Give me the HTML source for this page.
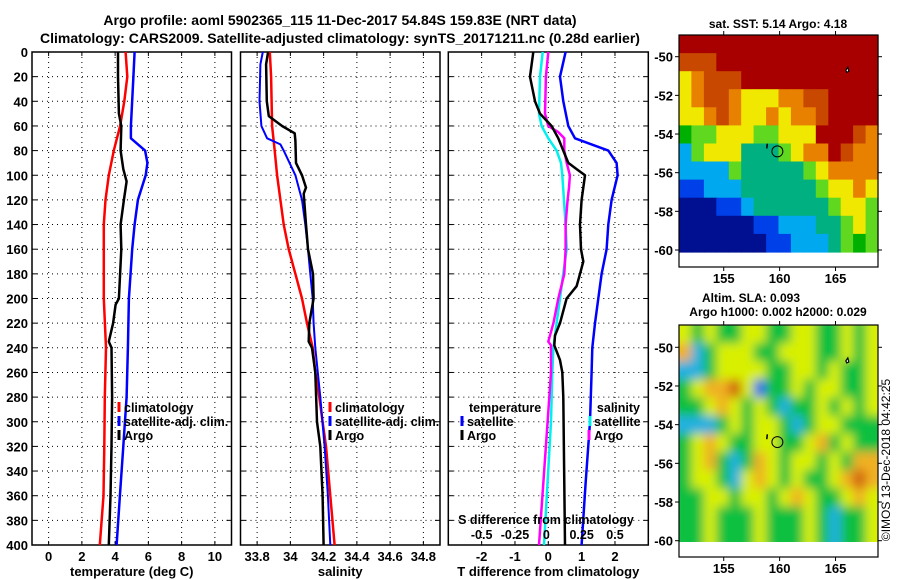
<!DOCTYPE html>
<html><head><meta charset="utf-8"><style>
html,body{margin:0;padding:0;background:#fff;}
svg{display:block;font-family:"Liberation Sans",Arial,sans-serif;font-weight:bold;}
</style></head><body>
<svg id="fig" width="900" height="580" viewBox="0 0 900 580" xmlns="http://www.w3.org/2000/svg">
<defs>
<filter id="blur6" x="-5%" y="-5%" width="110%" height="110%"><feGaussianBlur stdDeviation="5"/></filter>
<clipPath id="slaClip"><rect x="679" y="325" width="199" height="217"/></clipPath>
</defs>
<text x="340" y="25" font-size="14" text-anchor="middle">Argo profile: aoml 5902365_115 11-Dec-2017 54.84S 159.83E (NRT data)</text>
<text x="340" y="43" font-size="14" text-anchor="middle">Climatology: CARS2009. Satellite-adjusted climatology: synTS_20171211.nc (0.28d earlier)</text>
<text x="778" y="28" font-size="12" text-anchor="middle">sat. SST: 5.14 Argo: 4.18</text>
<text x="751" y="302" font-size="12" text-anchor="middle">Altim. SLA: 0.093</text>
<text x="778" y="316" font-size="12" text-anchor="middle">Argo h1000: 0.002 h2000: 0.029</text>
<text transform="translate(890,460) rotate(-90)" font-size="12" font-weight="normal" text-anchor="middle">©IMOS 13-Dec-2018 04:42:25</text>
</svg>
<script>
// ---------- data ----------
const depthTicks=[0,20,40,60,80,100,120,140,160,180,200,220,240,260,280,300,320,340,360,380,400];
const tempTicks=[0,2,4,6,8,10];
const salTicks=[33.8,34,34.2,34.4,34.6,34.8];
const diffTicks=[-2,-1,0,1,2];
const sDiffTicks=[-0.5,-0.25,0,0.25,0.5];

const climTDepth=[0,20,40,60,80,100,120,140,200,240,280,320,360,400];
const climTVal=[4.63,4.73,4.55,4.3,3.92,3.62,3.42,3.32,3.32,3.45,3.38,3.35,3.3,3.08];
const satTDepth=[0,20,60,70,80,90,100,120,140,160,200,240,280,320,360,400];
const satTVal=[5.17,5.1,4.95,4.95,5.8,5.94,5.84,5.37,5.17,5.03,4.83,4.77,4.69,4.49,4.29,4.09];
const argoTDepth=[0,20,50,60,80,95,105,120,140,160,180,200,205,220,235,240,280,320,360,400];
const argoTVal=[4.17,4.17,4.23,4.37,4.33,4.49,4.69,4.53,4.33,4.37,4.3,4.23,4.03,3.88,3.62,3.78,3.82,3.78,3.72,3.62];

const climSDepth=[0,20,60,80,100,120,140,160,180,200,220,240,260,280,300,320,360,400];
const climSVal=[33.876,33.884,33.89,33.906,33.92,33.94,33.96,33.99,34.03,34.07,34.1,34.134,34.15,34.174,34.194,34.214,34.24,34.266];
const satSDepth=[0,10,40,60,70,75,80,100,120,140,160,180,200,220,240,280,320,360,400];
const satSVal=[33.834,33.82,33.814,33.826,33.86,33.94,33.96,34.03,34.07,34.09,34.106,34.12,34.134,34.14,34.15,34.18,34.206,34.226,34.24];
const argoSDepth=[0,10,40,52,60,66,72,90,100,110,115,140,160,180,200,220,235,240,260,300,320,360,400];
const argoSVal=[33.866,33.854,33.858,33.87,33.95,34.026,34.03,34.034,34.07,34.094,34.08,34.094,34.106,34.136,34.14,34.114,34.11,34.13,34.15,34.16,34.18,34.194,34.2];

const dTArgoDepth=[0,20,40,50,60,70,80,90,95,100,120,140,160,170,180,190,200,220,230,238,250,260,280,400];
const dTArgoVal=[-0.45,-0.55,-0.4,-0.25,0.1,0.3,0.45,0.6,0.85,1.1,1.0,0.95,0.98,1.05,0.95,0.85,0.55,0.35,0.2,0.18,0.35,0.42,0.45,0.5];
const dTSatDepth=[0,20,40,60,70,75,80,90,100,120,140,160,180,200,220,240,260,300,350,400];
const dTSatVal=[0.52,0.35,0.45,0.6,0.8,1.3,1.8,2.05,2.08,1.9,1.8,1.75,1.6,1.5,1.4,1.32,1.3,1.25,1.12,1.0];
const dSSatDepth=[0,20,50,60,70,80,90,100,140,160,180,200,220,240,260,300,400];
const dSSatVal=[-0.042,-0.062,-0.07,-0.05,0,0.062,0.095,0.105,0.13,0.138,0.112,0.088,0.062,0.038,0.03,0.02,-0.032];
const dSArgoDepth=[0,20,50,60,65,70,80,90,100,110,120,140,160,180,200,220,235,238,260,300,400];
const dSArgoVal=[0,-0.018,-0.025,0,0.075,0.12,0.12,0.138,0.162,0.155,0.145,0.13,0.13,0.12,0.075,0.038,0,0.02,0.02,-0.005,-0.07];

// map colour grids (rows north->south, cols west->east)
const sstGrid=[
"RRRRRRRRRRRRRRRR",
"oooRRRRRRRRRRRRR",
"YOoooRRRRRRRRRRR",
"YOooOYYYOOooRRRR",
"YYOoOYYOYOOoRRRR",
"GggYYYggYYYRRRoO",
"CgYYYTTTgYOORoOO",
"CCCCgTTTTTgYOOOO",
"BBCCCTTTTTTgYYOY",
"NNNBBCTTTTTTgYYg",
"NNNNNNBBCCCTTgYg",
"NNNNNNNBBCCCTgGg"];
const slaGrid=[
"YGYGGYYGGYYGGYGY",
"OCGYYYGGYYYGGYGY",
"CCGYYYYGGYYGYGGY",
"GYOORYBGGYGYYGGY",
"GGYOYGYGCGGYGYGY",
"CCCGYGYYGCGYYGGG",
"GYOYGGYYGGYOGYGG",
"GYOGCGOYGYYGYGOO",
"GYYGCYOYGYGGYORO",
"GGYYGYYGYOYGGYOY",
"GGYGGGYGGGYGCGGY",
"GGYGGGYGGGYGCGGY"];
const sstColors={R:"#a80000",o:"#c84800",O:"#e88000",Y:"#f0e800",g:"#60d820",G:"#00b000",T:"#00b080",C:"#00a8f0",B:"#0040e8",N:"#001090"};
const slaColors={G:"#10c040",Y:"#d8f000",O:"#f0b020",R:"#d06010",C:"#20b0e0",B:"#2068f0"};

// ---------- helpers ----------
const NS="http://www.w3.org/2000/svg";
const svg=document.getElementById('fig');
function mk(tag,attrs,parent){const e=document.createElementNS(NS,tag);for(const k in attrs)e.setAttribute(k,attrs[k]);(parent||svg).appendChild(e);return e;}
function txt(x,y,s,size,anchor,parent){const t=mk('text',{x:x,y:y,'font-size':size,'text-anchor':anchor||'middle'},parent);t.textContent=s;return t;}

const TOP=52,BOT=545;
const yD=d=>TOP+(d/400)*(BOT-TOP);

function panel(name,x0,x1,vmin,vmax,gridVals,labelVals,labelFmt,title,showY){
  const g=mk('g',{});
  
  
  const xs=v=>x0+(v-vmin)/(vmax-vmin)*(x1-x0);
  gridVals.forEach(v=>{const l=mk('line',{x1:xs(v),x2:xs(v),y1:TOP,y2:BOT,stroke:'#000','stroke-width':1,'stroke-dasharray':'1,4'},g);
    
    mk('line',{x1:xs(v),x2:xs(v),y1:TOP,y2:TOP+4,stroke:'#000'},g);mk('line',{x1:xs(v),x2:xs(v),y1:BOT,y2:BOT-4,stroke:'#000'},g);});
  depthTicks.forEach(d=>{if(d>0&&d<400){const l=mk('line',{x1:x0,x2:x1,y1:yD(d),y2:yD(d),stroke:'#000','stroke-width':1,'stroke-dasharray':'1,4'},g);
    }
    mk('line',{x1:x0,x2:x0+5,y1:yD(d),y2:yD(d),stroke:'#000'},g);mk('line',{x1:x1,x2:x1-5,y1:yD(d),y2:yD(d),stroke:'#000'},g);
    if(showY){const t=txt(28,yD(d)+5,String(d),13,'end',g);}});
  const fr=mk('rect',{x:x0,y:TOP,width:x1-x0,height:BOT-TOP,fill:'none',stroke:'#000','stroke-width':1.5},g);
  
  labelVals.forEach(v=>{const t=txt(xs(v),561,labelFmt(v),13,'middle',g);});
  const tt=txt((x0+x1)/2,576,title,13,'middle',g);
  return {g,xs};
}
function series(p,depths,vals,color,w,name){
  const pts=depths.map((d,i)=>p.xs(vals[i]).toFixed(1)+','+yD(d).toFixed(1)).join(' ');
  const l=mk('polyline',{points:pts,fill:'none',stroke:color,'stroke-width':w,'stroke-linejoin':'round'},p.g);
  
  
}
function legend(p,x,y,color,label,anchor){
  const g=mk('g',{},p.g);
  
  
  mk('line',{x1:x,x2:x,y1:y-10,y2:y,stroke:color,'stroke-width':3},g);
  if(label)txt(anchor==='end'?x-4:x+5,y,label,12.5,anchor||'start',g);
}

// panel 1 temperature
const p1=panel('temperature-panel',32,231.5,-1,11,tempTicks,tempTicks,v=>String(v),'temperature (deg C)',true);
series(p1,climTDepth,climTVal,'#ff0000',2.5,'climatology-temperature-line');
series(p1,satTDepth,satTVal,'#0000ff',2.5,'satellite-temperature-line');
series(p1,argoTDepth,argoTVal,'#000000',2.5,'argo-temperature-line');
legend(p1,119,412,'#ff0000','climatology');legend(p1,119,426,'#0000ff','satellite-adj. clim.');legend(p1,119,440,'#000','Argo');

// panel 2 salinity
const p2=panel('salinity-panel',240.5,440,33.7,34.9,salTicks,salTicks,v=>String(v),'salinity',false);
series(p2,climSDepth,climSVal,'#ff0000',2.5,'climatology-salinity-line');
series(p2,satSDepth,satSVal,'#0000ff',2,'satellite-salinity-line');
series(p2,argoSDepth,argoSVal,'#000000',2.5,'argo-salinity-line');
legend(p2,330,412,'#ff0000','climatology');legend(p2,330,426,'#0000ff','satellite-adj. clim.');legend(p2,330,440,'#000','Argo');

// panel 3 differences
const p3=panel('difference-panel',448.3,648.3,-3,3,diffTicks,diffTicks,v=>String(v),'T difference from climatology',false);
const sScale=4;
series(p3,dSSatDepth,dSSatVal.map(v=>v*sScale),'#00f0f0',2.5,'satellite-salinity-diff-line');
series(p3,dSArgoDepth,dSArgoVal.map(v=>v*sScale),'#ff00ff',2.5,'argo-salinity-diff-line');
series(p3,dTArgoDepth,dTArgoVal,'#000000',2.5,'argo-temperature-diff-line');
series(p3,dTSatDepth,dTSatVal,'#0000ff',2.5,'satellite-temperature-diff-line');
{const t=txt(469,412,'temperature',12.5,'start',p3.g);}
legend(p3,462,426,'#0000ff','satellite');legend(p3,462,440,'#000','Argo');
{const t=txt(640,412,'salinity',12.5,'end',p3.g);}
legend(p3,590,426,'#00f0f0',null);legend(p3,589,440,'#ff00ff',null);
{const t=txt(594,426,'satellite',12.5,'start',p3.g);}
{const t=txt(594,440,'Argo',12.5,'start',p3.g);}
{const t=txt(546,524,'S difference from climatology',12.5,'middle',p3.g);}
sDiffTicks.forEach(v=>{const t=txt(p3.xs(v*sScale)+(v===0?-2:0),539,String(v),12.5,'middle',p3.g);});

// ---------- maps ----------
function map(name,grid,colors,fx0,fy0,fy1,latY50,latY60,smooth){
  const g=mk('g',{});
  
  
  const fx1=878;
  const lonX=lon=>fx0+(lon-151)/(168.8-151)*(fx1-fx0);
  const latY=lat=>latY50+(-50-lat)/10*(latY60-latY50);
  const rows=grid.length,cols=grid[0].length;
  const top=fy0,bot=latY(-60.1),h=(bot-top)/rows,w=(fx1-fx0)/cols;
  let cg=g;
  if(smooth){const clip=mk('g',{'clip-path':'url(#slaClip)'},g);cg=mk('g',{filter:'url(#blur6)'},clip);}
  for(let r=0;r<rows;r++)for(let c=0;c<cols;c++){
    const ex=smooth?8:0;
    const x=fx0+c*w-(c===0?ex:0), y=top+r*h-(r===0?ex:0);
    const ww=w+0.6+(c===0?ex:0)+(c===cols-1?ex:0), hh=h+0.6+(r===0?ex:0)+(r===rows-1?ex:0);
    const cell=mk('rect',{x:x.toFixed(1),y:y.toFixed(1),width:ww.toFixed(1),height:hh.toFixed(1),fill:colors[grid[r][c]]},cg);
    
    
  }
  const fr=mk('rect',{x:fx0,y:fy0,width:fx1-fx0,height:fy1-fy0,fill:'none',stroke:'#000','stroke-width':1.2},g);
  
  [155,160,165].forEach(lon=>{mk('line',{x1:lonX(lon),x2:lonX(lon),y1:fy0,y2:fy0-4,stroke:'#000'},g);mk('line',{x1:lonX(lon),x2:lonX(lon),y1:fy1,y2:fy1+4,stroke:'#000'},g);
    const t=txt(lonX(lon),fy1+16,String(lon),13,'middle',g);});
  [-50,-52,-54,-56,-58,-60].forEach(lat=>{mk('line',{x1:fx0,x2:fx0-4,y1:latY(lat),y2:latY(lat),stroke:'#000'},g);mk('line',{x1:fx1,x2:fx1+4,y1:latY(lat),y2:latY(lat),stroke:'#000'},g);
    const t=txt(fx0-6,latY(lat)+5,String(lat),13,'end',g);});
  const c=mk('circle',{cx:lonX(159.8),cy:latY(-54.9),r:5.5,fill:'none',stroke:'#000','stroke-width':1},g);
  
  mk('line',{x1:lonX(158.9),x2:lonX(158.85),y1:latY(-54.5),y2:latY(-54.75),stroke:'#000','stroke-width':1.5},g);
  const isl=mk('path',{d:`M${lonX(166.1)},${latY(-50.55)} l-2,3 l1,2 l2,-1 z`,fill:'#fff',stroke:'#000','stroke-width':1.2},g);
  
}
map('sst-map',sstGrid,sstColors,679,35,267,56.7,250,false);
map('sla-map',slaGrid,slaColors,679,325,557,347.3,540.7,true);
</script>
</body></html>
